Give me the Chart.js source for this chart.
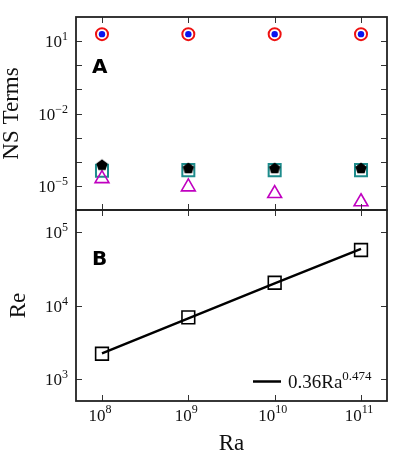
<!DOCTYPE html>
<html lang="en">
<head>
    <meta charset="UTF-8">
    <title>NS Terms and Re vs Ra</title>
    <script src="https://cdn.jsdelivr.net/npm/chart.js"></script>
    <style>
        body { margin: 0; background: #ffffff; }
        .wrap { position: relative; width: 399px; height: 456px; }
        .wrap canvas { position: absolute; left: 0; top: 0; }
    </style>
</head>
<body>
<div class="wrap">
    <canvas id="topChart" width="399" height="456"></canvas>
    <canvas id="bottomChart" width="399" height="456"></canvas>
</div>
<script>
    // Rayleigh numbers (x for both panels)
    const raValues = [1e8, 1e9, 1e10, 1e11];

    // panel A: NS terms
    const redCircle = [19.5, 19.5, 19.5, 19.5];
    const blueDot = [19.5, 19.5, 19.5, 19.5];
    const tealSquare = [4.2e-5, 4.5e-5, 4.5e-5, 4.5e-5];
    const blackPentagon = [7.5e-5, 5.5e-5, 5.5e-5, 5.5e-5];
    const magentaTriangle = [2.0e-5, 9.1e-6, 4.8e-6, 2.2e-6];

    // panel B: Reynolds number and fit
    const reValues = [2200, 6900, 20400, 57000];
    const reFit = [2230, 6700, 20000, 59000];
    const fitLabel = ['0.36Ra', '0.474'];

    // tick labels
    const xTickExps = ['8', '9', '10', '11'];
    const topYTicks = [-5, -4, -3, -2, -1, 0, 1];
    const topYLabels = [1, -2, -5];
    const bottomYTicks = [3, 4, 5];
    const bottomYLabels = [3, 4, 5];

    const SERIF = '"Liberation Serif", "DejaVu Serif", serif';

    function pts(ys) {
        return raValues.map(function(x, i) { return { x: x, y: ys[i] }; });
    }

    function pentagonImage() {
        const c = document.createElement('canvas');
        c.width = 14; c.height = 14;
        const g = c.getContext('2d');
        g.fillStyle = '#000000';
        g.beginPath();
        for (let i = 0; i < 5; i++) {
            const a = -Math.PI / 2 + i * 2 * Math.PI / 5;
            const px = 7 + 6 * Math.cos(a), py = 7.5 + 6 * Math.sin(a);
            if (i === 0) g.moveTo(px, py); else g.lineTo(px, py);
        }
        g.closePath();
        g.fill();
        return c;
    }

    function expText(e) {
        return e < 0 ? '\u2212' + Math.abs(e) : String(e);
    }

    function drawPow(ctx, base, exp, x, y, align, size, supSize, rise) {
        ctx.font = size + 'px ' + SERIF;
        const wb = ctx.measureText(base).width;
        ctx.font = supSize + 'px ' + SERIF;
        const we = ctx.measureText(exp).width;
        let x0 = x;
        if (align === 'right') x0 = x - wb - we;
        if (align === 'center') x0 = x - (wb + we) / 2;
        ctx.textAlign = 'left';
        ctx.textBaseline = 'alphabetic';
        ctx.font = size + 'px ' + SERIF;
        ctx.fillText(base, x0, y);
        ctx.font = supSize + 'px ' + SERIF;
        ctx.fillText(exp, x0 + wb, y - rise);
    }

    // matplotlib-like frame: inward ticks on all four sides
    const framePlugin = {
        id: 'frame',
        afterDatasetsDraw: function(chart, args, opts) {
            const ctx = chart.ctx;
            const a = chart.chartArea;
            const xs = chart.scales.x, ys = chart.scales.y;
            ctx.save();
            ctx.strokeStyle = '#333333';
            ctx.lineWidth = 1;
            raValues.forEach(function(v) {
                const px = Math.round(xs.getPixelForValue(v)) + 0.5;
                ctx.beginPath();
                ctx.moveTo(px, a.top); ctx.lineTo(px, a.top + 6);
                ctx.moveTo(px, a.bottom); ctx.lineTo(px, a.bottom - 6);
                ctx.stroke();
            });
            opts.yTicks.forEach(function(e) {
                const py = Math.round(ys.getPixelForValue(Math.pow(10, e))) + 0.5;
                ctx.beginPath();
                ctx.moveTo(a.left, py); ctx.lineTo(a.left + 6, py);
                ctx.moveTo(a.right, py); ctx.lineTo(a.right - 6, py);
                ctx.stroke();
            });
            ctx.strokeStyle = '#222222';
            ctx.lineWidth = 1.8;
            ctx.strokeRect(a.left, a.top, a.right - a.left, a.bottom - a.top);

            ctx.fillStyle = '#111111';
            opts.yLabels.forEach(function(e) {
                const py = ys.getPixelForValue(Math.pow(10, e));
                drawPow(ctx, '10', expText(e), 68, py + 6, 'right', 17, 12, 7);
            });
            if (opts.xLabels) {
                raValues.forEach(function(v, i) {
                    const px = xs.getPixelForValue(v);
                    drawPow(ctx, '10', xTickExps[i], px - 2, 421, 'center', 17, 12, 8);
                });
                ctx.font = '23px ' + SERIF;
                ctx.textAlign = 'center';
                ctx.fillText('Ra', (a.left + a.right) / 2, 450);
            }
            // y title
            ctx.save();
            ctx.translate(opts.titleX, (a.top + a.bottom) / 2);
            ctx.rotate(-Math.PI / 2);
            ctx.font = '23px ' + SERIF;
            ctx.textAlign = 'center';
            ctx.textBaseline = 'middle';
            ctx.fillText(opts.title, 0, 0);
            ctx.restore();
            // panel letter
            ctx.font = 'bold 20px "DejaVu Sans", sans-serif';
            ctx.textAlign = 'left';
            ctx.textBaseline = 'alphabetic';
            ctx.fillStyle = '#000000';
            ctx.fillText(opts.letter, a.left + 16, opts.letterY);
            // legend for fit line
            if (opts.legend) {
                ctx.strokeStyle = '#000000';
                ctx.lineWidth = 2.5;
                ctx.beginPath();
                ctx.moveTo(253, 381.5); ctx.lineTo(281, 381.5);
                ctx.stroke();
                ctx.fillStyle = '#111111';
                drawPow(ctx, fitLabel[0], fitLabel[1], 288, 388, 'left', 19, 13, 8);
            }
            ctx.restore();
        }
    };

    const xScale = { type: 'logarithmic', display: false, min: 5e7, max: 2e11 };

    new Chart(document.getElementById('topChart'), {
        type: 'scatter',
        data: {
            datasets: [{
                label: 'red circle', data: pts(redCircle), order: 5,
                pointStyle: 'circle', pointRadius: 6, borderColor: '#ee1111', borderWidth: 2,
                backgroundColor: 'rgba(0,0,0,0)'
            }, {
                label: 'blue dot', data: pts(blueDot), order: 4,
                pointStyle: 'circle', pointRadius: 3.2, borderWidth: 0,
                backgroundColor: '#0a14f0', borderColor: '#0a14f0'
            }, {
                label: 'teal square', data: pts(tealSquare), order: 3,
                pointStyle: 'rect', pointRadius: 8.5, borderColor: '#1e8c8c', borderWidth: 2,
                backgroundColor: 'rgba(0,0,0,0)'
            }, {
                label: 'magenta triangle', data: pts(magentaTriangle), order: 2,
                pointStyle: 'triangle', pointRadius: 8, borderColor: '#c000c0', borderWidth: 1.6,
                backgroundColor: 'rgba(0,0,0,0)'
            }, {
                label: 'black pentagon', data: pts(blackPentagon), order: 1,
                pointStyle: pentagonImage(), pointRadius: 6
            }]
        },
        options: {
            responsive: false,
            animation: false,
            layout: { padding: { left: 76, right: 12, top: 17, bottom: 246 } },
            scales: {
                x: xScale,
                y: { type: 'logarithmic', display: false, min: 1e-6, max: 1e2 }
            },
            plugins: {
                legend: { display: false },
                tooltip: { enabled: false },
                frame: { yTicks: topYTicks, yLabels: topYLabels, title: 'NS Terms', titleX: 12,
                         letter: 'A', letterY: 73, xLabels: false, legend: false }
            }
        },
        plugins: [framePlugin]
    });

    new Chart(document.getElementById('bottomChart'), {
        type: 'scatter',
        data: {
            datasets: [{
                label: '0.36Ra^0.474', data: pts(reFit), showLine: true, order: 2,
                borderColor: '#000000', borderWidth: 2.4, pointRadius: 0
            }, {
                label: 'Re', data: pts(reValues), order: 1,
                pointStyle: 'rect', pointRadius: 9, borderColor: '#000000', borderWidth: 1.6,
                backgroundColor: 'rgba(0,0,0,0)'
            }]
        },
        options: {
            responsive: false,
            animation: false,
            layout: { padding: { left: 76, right: 12, top: 210, bottom: 55 } },
            scales: {
                x: xScale,
                y: { type: 'logarithmic', display: false, min: 500, max: 2e5 }
            },
            plugins: {
                legend: { display: false },
                tooltip: { enabled: false },
                frame: { yTicks: bottomYTicks, yLabels: bottomYLabels, title: 'Re', titleX: 19,
                         letter: 'B', letterY: 265, xLabels: true, legend: true }
            }
        },
        plugins: [framePlugin]
    });
</script>
</body>
</html>
